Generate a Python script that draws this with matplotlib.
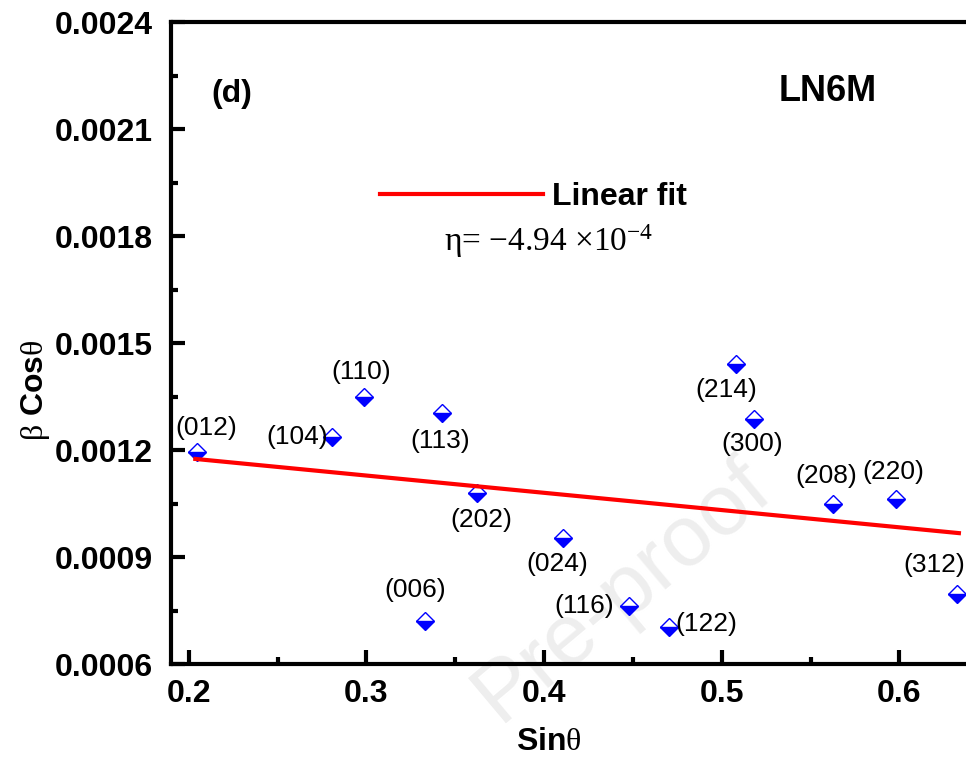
import matplotlib
matplotlib.use('Agg')
import matplotlib.pyplot as plt
from matplotlib.ticker import MultipleLocator, FormatStrFormatter

plt.rcParams['font.family'] = ['Liberation Sans', 'DejaVu Sans']
plt.rcParams['mathtext.fontset'] = 'custom'
plt.rcParams['mathtext.rm'] = 'Liberation Serif'
plt.rcParams['mathtext.it'] = 'Liberation Serif:italic'
plt.rcParams['mathtext.bf'] = 'Liberation Serif:bold'
plt.rcParams['mathtext.default'] = 'rm'

# ---- data ----
hkl = ['(012)', '(104)', '(110)', '(113)', '(202)', '(006)', '(024)',
       '(116)', '(122)', '(214)', '(300)', '(208)', '(220)', '(312)']
sin_theta = [0.2048, 0.2808, 0.2989, 0.3423, 0.3625, 0.3332, 0.4104,
             0.4476, 0.4701, 0.5079, 0.5180, 0.5625, 0.5980, 0.6324]
beta_cos = [0.001194, 0.001237, 0.001349, 0.001304, 0.001079, 0.000721, 0.000953,
            0.000763, 0.000704, 0.001441, 0.001287, 0.001049, 0.001063, 0.000796]
fit_x = [0.2037, 0.6335]
fit_y = [0.001175, 0.000967]
x_ticks = [0.2, 0.3, 0.4, 0.5, 0.6]
y_ticks = [0.0006, 0.0009, 0.0012, 0.0015, 0.0018, 0.0021, 0.0024]

# label offsets (points) relative to each marker
label_offsets = [(6.5, 17.3), (-25, 0), (-2, 18), (-1, -20), (3, -19), (-7, 22),
                 (-4, -19), (-32, 0), (27, 2), (-6.5, -19), (-1, -18), (-5, 20),
                 (-1.5, 19.4), (-16, 21)]

fig = plt.figure(figsize=(9.66, 7.62), dpi=100)
ax = fig.add_axes([0.1770, 0.1286, 0.8276, 0.8425])
ax.set_facecolor('none')

# watermark (behind everything)
fig.text(0.645, 0.225, 'Pre-proof', fontsize=62, color='#eeeeee', rotation=40,
         ha='center', va='center', zorder=-10)

ax.plot(sin_theta, beta_cos, linestyle='none', marker='D', markersize=9.5,
        fillstyle='bottom', markerfacecolor='#0000ff', markerfacecoloralt='white',
        markeredgecolor='#0000ff', markeredgewidth=1.0, zorder=3)
ax.plot(fit_x, fit_y, color='#ff0000', lw=3, zorder=4, label='Linear fit')

for lab, x, y, off in zip(hkl, sin_theta, beta_cos, label_offsets):
    ax.annotate(lab, (x, y), xytext=off, textcoords='offset points',
                ha='center', va='center', fontsize=19, zorder=5)

ax.set_xlim(0.19, 0.64)
ax.set_ylim(0.0006, 0.0024)
ax.set_xticks(x_ticks)
ax.set_yticks(y_ticks)
ax.xaxis.set_minor_locator(MultipleLocator(0.05))
ax.yaxis.set_minor_locator(MultipleLocator(0.00015))
ax.xaxis.set_major_formatter(FormatStrFormatter('%.1f'))
ax.yaxis.set_major_formatter(FormatStrFormatter('%.4f'))

for sp in ax.spines.values():
    sp.set_linewidth(3)
ax.tick_params(which='both', direction='in', top=False, right=False, width=3)
ax.tick_params(which='major', length=10)
ax.tick_params(which='minor', length=5)
ax.tick_params(axis='x', which='major', pad=11, labelsize=23)
ax.tick_params(axis='y', which='major', pad=13, labelsize=23)
for t in ax.get_xticklabels() + ax.get_yticklabels():
    t.set_fontweight('bold')

ax.set_xlabel(r'Sin$\mathrm{\theta}$', fontsize=23, fontweight='bold', va='center')
ax.xaxis.set_label_coords(0.473, -0.1215)
ax.set_ylabel(r'$\mathrm{\beta}$ Cos$\mathrm{\theta}$', fontsize=23, fontweight='bold', va='center')
ax.yaxis.set_label_coords(-0.170, 0.427)

leg = ax.legend(loc='center left', bbox_to_anchor=(0.2614, 0.7274), frameon=False,
                borderpad=0, borderaxespad=0, handlelength=5.1, handletextpad=0.3,
                prop={'weight': 'bold', 'size': 23})

ax.text(0.472, 0.658, r'η= −4.94 ×10$^{-4}$', transform=ax.transAxes,
        ha='center', va='center', fontsize=24, family='Liberation Serif')
ax.text(0.0763, 0.888, '(d)', transform=ax.transAxes, ha='center', va='center',
        fontsize=23, fontweight='bold')
ax.text(0.822, 0.892, 'LN6M', transform=ax.transAxes, ha='center', va='center',
        fontsize=26, fontweight='bold')

fig.savefig('out.png', dpi=100)
